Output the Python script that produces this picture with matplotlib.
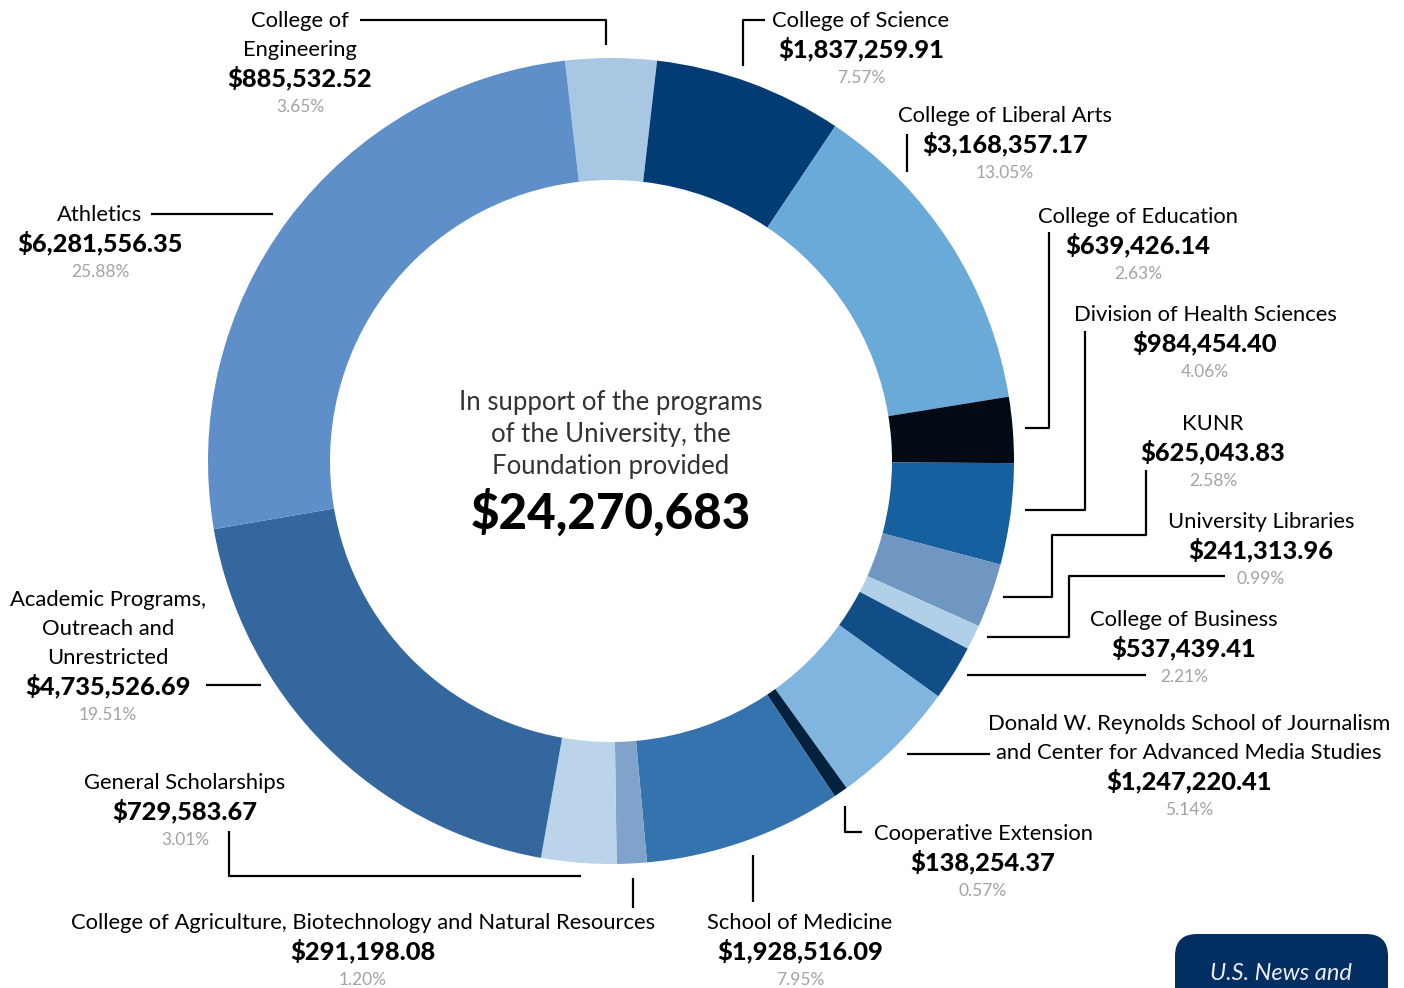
import matplotlib.pyplot as plt
from matplotlib.patches import FancyBboxPatch

# slices, clockwise from the top
names = [
    "College of\nEngineering",
    "College of Science",
    "College of Liberal Arts",
    "College of Education",
    "Division of Health Sciences",
    "KUNR",
    "University Libraries",
    "College of Business",
    "Donald W. Reynolds School of Journalism\nand Center for Advanced Media Studies",
    "Cooperative Extension",
    "School of Medicine",
    "College of Agriculture, Biotechnology and Natural Resources",
    "General Scholarships",
    "Academic Programs,\nOutreach and\nUnrestricted",
    "Athletics",
]
amounts = [885532.52, 1837259.91, 3168357.17, 639426.14, 984454.40, 625043.83,
           241313.96, 537439.41, 1247220.41, 138254.37, 1928516.09, 291198.08,
           729583.67, 4735526.69, 6281556.35]
colors = ["#A7C7E3", "#033C75", "#6AAAD9", "#020A16", "#17609F", "#7096C2",
          "#B2CFE8", "#114E88", "#80B5DF", "#03223F", "#3573AE", "#7FA3CB",
          "#BBD4EA", "#33679E", "#5F8FC9"]
total = sum(amounts)

# label anchor (center x, top line y) and leader lines, in pixels
label_pos = [(300, 19), (861, 19), (1005, 114), (1138, 215), (1205, 313),
             (1213, 422), (1261, 520), (1184, 618), (1189, 722), (983, 832),
             (800, 921), (363, 921), (185, 781), (108, 598), (100, 213)]
leaders = [
    [(360, 20), (606, 20), (606, 45)],
    [(765, 20), (743, 20), (743, 66)],
    [(907, 134), (907, 172)],
    [(1049, 232), (1049, 428), (1025, 428)],
    [(1085, 331), (1085, 510), (1025, 510)],
    [(1146, 470), (1146, 535), (1052, 535), (1052, 597), (1003, 597)],
    [(1225, 576), (1069, 576), (1069, 637), (987, 637)],
    [(1146, 675), (967, 675)],
    [(990, 754), (907, 754)],
    [(862, 832), (845, 832), (845, 806)],
    [(753, 855), (753, 902)],
    [(633, 878), (633, 908)],
    [(581, 876), (229, 876), (229, 831)],
    [(206, 685), (261, 685)],
    [(151, 214), (273, 214)],
]

FONT = "Lato"
W, H = 1404, 988
fig = plt.figure(figsize=(W / 100, H / 100), dpi=100)
ax = fig.add_axes([0, 0, 1, 1])

cx, cy, R = 611, 461, 403
start = -90 - amounts[0] / total * 360 / 2
ax.pie(amounts, colors=colors, center=(cx, cy), radius=R, startangle=start,
       counterclock=True, wedgeprops=dict(width=122, linewidth=0))
ax.set_xlim(0, W)
ax.set_ylim(H, 0)
ax.set_aspect("auto")
ax.axis("off")

for name, amt, (x, y), pts in zip(names, amounts, label_pos, leaders):
    yy = y + 2
    for ln in name.split("\n"):
        ax.text(x, yy, ln, ha="center", va="center", fontsize=15.8, family=FONT, color="black")
        yy += 29
    ax.text(x, yy - 1, "${:,.2f}".format(amt), ha="center", va="center", fontsize=18.3,
            family=FONT, fontweight="black", color="black")
    ax.text(x, yy + 28, "{:.2f}%".format(amt / total * 100), ha="center", va="center",
            fontsize=12.5, family=FONT, color="#A3A3A3")
    ax.plot([p[0] for p in pts], [p[1] for p in pts], color="black", lw=1.6,
            solid_capstyle="butt")

# centre text
for i, ln in enumerate(["In support of the programs", "of the University, the", "Foundation provided"]):
    ax.text(cx, 402 + i * 32, ln, ha="center", va="center", fontsize=18.5, family=FONT,
            color="#333333")
ax.text(cx, 513, "${:,.0f}".format(total), ha="center", va="center", fontsize=35.5,
        family=FONT, fontweight="black", color="black")

# corner tab
box = FancyBboxPatch((1175, 934), 213, 80, boxstyle="round,pad=0,rounding_size=22",
                     facecolor="#032E62", edgecolor="none")
ax.add_patch(box)
ax.text(1281, 973, "U.S. News and", ha="center", va="center", fontsize=17, family=FONT,
        style="italic", color="#E8EEF5")

fig.savefig("out.png", dpi=100)
